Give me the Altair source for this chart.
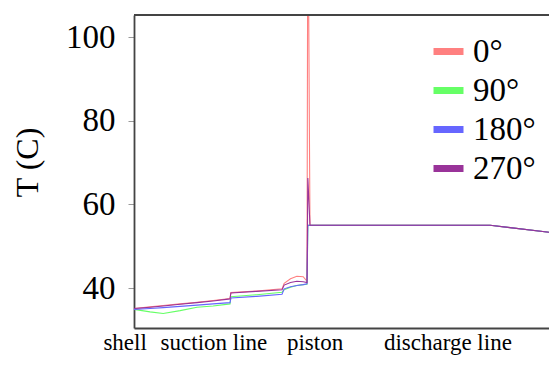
import altair as alt
import pandas as pd

# position along the compressor path (arbitrary units, 0..100)
positions = [0, 3.8, 6.9, 10.9, 14.9, 18.7, 22.7, 22.9, 29.0, 35.0, 35.5, 37.0, 38.5, 40.0, 40.9, 41.1, 41.6, 84.2, 100]
t_0 = [35.1, 35.5, 35.8, 36.2, 36.6, 37.0, 37.5, 38.9, 39.3, 39.8, 41.1, 42.2, 42.8, 42.7, 41.6, 140.0, 55.0, 55.0, 53.1]
t_90 = [34.9, 34.3, 33.9, 34.6, 35.4, 35.7, 36.2, 37.9, 38.4, 39.0, 39.6, 40.2, 40.6, 40.8, 40.9, 55.0, 55.0, 55.0, 53.1]
t_180 = [34.9, 35.1, 35.3, 35.6, 35.9, 36.2, 36.5, 37.6, 38.0, 38.5, 39.8, 40.3, 40.6, 40.8, 41.0, 55.0, 55.0, 55.0, 53.1]
t_270 = [35.1, 35.4, 35.7, 36.1, 36.5, 36.9, 37.4, 38.8, 39.2, 39.6, 40.7, 41.3, 41.6, 41.5, 41.3, 66.3, 55.0, 55.0, 53.1]

series_names = ["0°", "90°", "180°", "270°"]
series_values = [t_0, t_90, t_180, t_270]
colors = ["#ff8080", "#66ff66", "#6666ff", "#993399"]

section_labels = ["shell", "suction line", "piston", "discharge line"]
section_positions = [-2.1, 18.9, 42.8, 74.2]

y_ticks = [40, 60, 80, 100]

rows = []
for name, vals in zip(series_names, series_values):
    for p, v in zip(positions, vals):
        rows.append({"pos": p, "T": v, "series": name})
df = pd.DataFrame(rows)
labels_df = pd.DataFrame({"pos": section_positions, "label": section_labels})

W, H = 415, 313
FONT = "Liberation Serif"
FRAME = "#444444"

xscale = alt.Scale(domain=[0, 100 * W / 423], nice=False, zero=False)
yscale = alt.Scale(domain=[30.44, 105.26], nice=False, zero=False)

lines = alt.Chart(df).mark_line(strokeWidth=1.1, clip=True).encode(
    x=alt.X("pos:Q", scale=xscale,
            axis=alt.Axis(labels=False, ticks=False, title=None, grid=False,
                          domainColor=FRAME, domainWidth=1.8)),
    y=alt.Y("T:Q", scale=yscale,
            axis=alt.Axis(values=y_ticks, title="T (C)", grid=False,
                          titleFont=FONT, titleFontSize=32, titleFontWeight="normal",
                          titleColor="black", titleAngle=270, titleX=-97, titleY=147,
                          titleBaseline="alphabetic", titleAlign="center",
                          labelFont=FONT, labelFontSize=33, labelColor="black",
                          labelPadding=13, tickSize=6, tickColor="#999999",
                          domainColor=FRAME, domainWidth=1.8)),
    color=alt.Color("series:N", scale=alt.Scale(domain=series_names, range=colors),
                    legend=alt.Legend(orient="none", legendX=296, legendY=18, title=None,
                                      symbolType="stroke", symbolStrokeWidth=7,
                                      symbolSize=900, labelFont=FONT, labelFontSize=33,
                                      labelColor="black", rowPadding=3, labelOffset=6,
                                      symbolOpacity=1)),
)

texts = alt.Chart(labels_df).mark_text(font=FONT, fontSize=23, baseline="alphabetic",
                                       align="center", color="black").encode(
    x=alt.X("pos:Q", scale=xscale),
    y=alt.value(H + 22),
    text="label:N",
)

top = alt.Chart(pd.DataFrame({"a": [0]})).mark_rule(color=FRAME, strokeWidth=1.8).encode(
    x=alt.value(0), x2=alt.value(W), y=alt.value(0)
)

chart = alt.layer(lines, texts, top).properties(
    width=W, height=H,
    autosize=alt.AutoSizeParams(type="none"),
    padding={"left": 126, "top": 7, "right": 0, "bottom": 31},
).configure_view(stroke=None)

chart.save("out.html", embed_options={"renderer": "svg", "actions": False})
